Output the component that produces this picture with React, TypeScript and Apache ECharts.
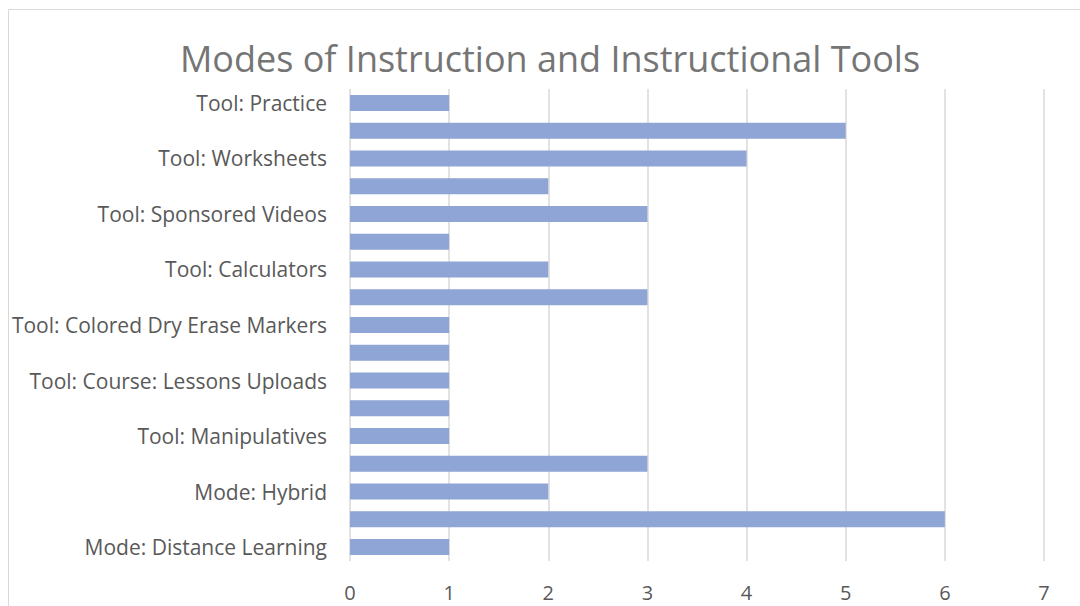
import React, { useEffect, useRef } from "react";
import * as echarts from "echarts";

const categories = [
  "Mode: Distance Learning",
  "Mode: In-Person",
  "Mode: Hybrid",
  "Mode: Synchronous Online",
  "Tool: Manipulatives",
  "Tool: Interactive Whiteboard",
  "Tool: Course: Lessons Uploads",
  "Tool: Video Conferencing",
  "Tool: Colored Dry Erase Markers",
  "Tool: Online Quizzes",
  "Tool: Calculators",
  "Tool: Graphing Software",
  "Tool: Sponsored Videos",
  "Tool: Textbooks",
  "Tool: Worksheets",
  "Tool: Homework",
  "Tool: Practice",
];
const values = [1, 6, 2, 3, 1, 1, 1, 1, 1, 3, 2, 1, 3, 2, 4, 5, 1];
const xTicks = [0, 7, 1]; // min, max, interval
const titleText = "Modes of Instruction and Instructional Tools";

export default function App() {
  const ref = useRef<HTMLDivElement>(null);
  useEffect(() => {
    document.body.style.margin = "0";
    const chart = echarts.init(ref.current!, null, { renderer: "svg" });
    const font = "'Open Sans', sans-serif";
    chart.setOption({
      animation: false,
      backgroundColor: "#ffffff",
      graphic: [
        {
          type: "rect",
          shape: { x: 8.5, y: 9.5, width: 1200, height: 700 },
          style: { fill: "none", stroke: "#d9d9d9", lineWidth: 1 },
          silent: true,
          z: -1,
        },
        {
          type: "text",
          x: 550,
          y: 58,
          style: {
            text: titleText,
            font: `36px ${font}`,
            fill: "#757575",
            textAlign: "center",
            textVerticalAlign: "middle",
          },
        },
      ],
      grid: { left: 350, right: 36, top: 89, bottom: 45, containLabel: false },
      xAxis: {
        type: "value",
        min: xTicks[0],
        max: xTicks[1],
        interval: xTicks[2],
        axisLine: { show: false },
        axisTick: { show: false },
        splitLine: { show: true, lineStyle: { color: "#d9d9d9", width: 1.5 } },
        axisLabel: { color: "#595959", fontSize: 20, fontFamily: font, margin: 21 },
      },
      yAxis: {
        type: "category",
        data: categories,
        axisLine: { show: false },
        axisTick: { show: false },
        axisLabel: { interval: 1, color: "#595959", fontSize: 21, fontFamily: font, margin: 23 },
      },
      series: [
        {
          type: "bar",
          data: values,
          barWidth: 16,
          itemStyle: { color: "#8FA5D6" },
        },
      ],
    });
    return () => chart.dispose();
  }, []);
  return <div ref={ref} style={{ width: 1080, height: 606 }} />;
}
